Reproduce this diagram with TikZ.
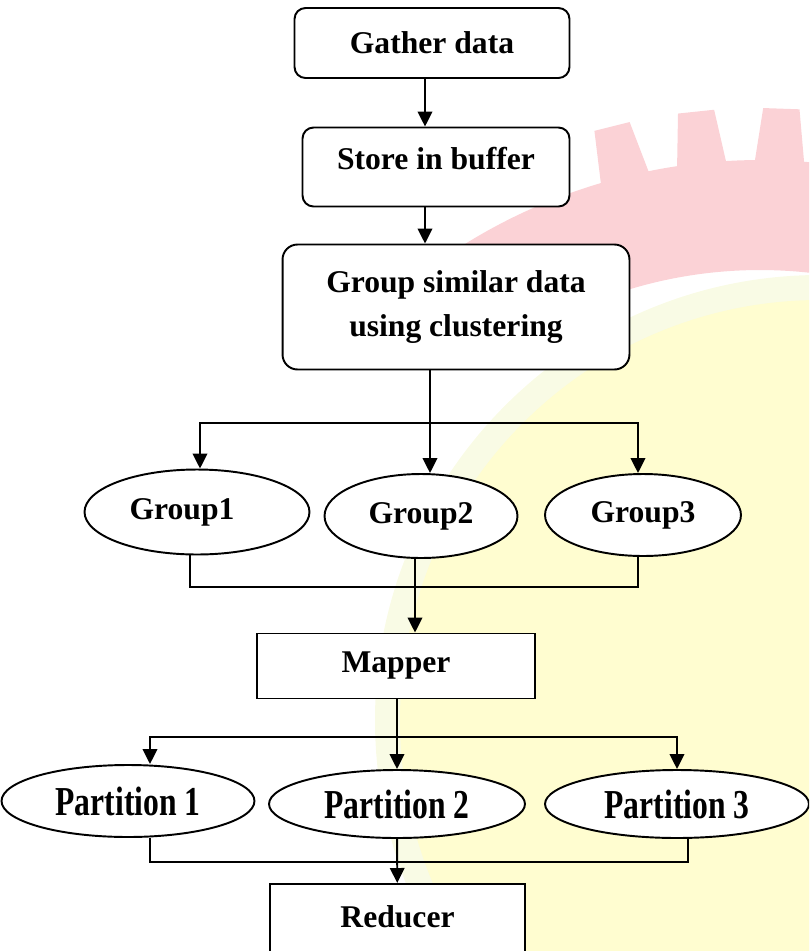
\documentclass[tikz,border=0pt]{standalone}
\usepackage{fontspec}
\setmainfont{Liberation Serif}
\usepackage{tikz}
\usetikzlibrary{arrows.meta,shapes.geometric,positioning}
\definecolor{markpink}{RGB}{251,210,214}
\definecolor{markyellow}{RGB}{255,253,208}
\definecolor{markpale}{RGB}{249,251,229}
\tikzset{
  round box/.style={
    draw, fill=white, line width=1.1pt,
    rounded corners=#1,
    font=\bfseries\fontsize{18}{24.5}\selectfont,
    align=center,
  },
  plain box/.style={
    draw, fill=white, line width=1.1pt,
    minimum width={#1},
    font=\bfseries\fontsize{18}{24.5}\selectfont,
  },
  oval/.style={
    ellipse, draw, fill=white, line width=1.1pt,
    inner sep=0pt,
    font=\bfseries\fontsize{18}{24.5}\selectfont,
  },
  flow/.style={
    line width=1.1pt,
    -{Triangle[length=0.3cm,width=0.29cm]},
  },
  link/.style={
    line width=1.1pt,
  }
}
\newcommand{\tallword}[1]{\scalebox{1}[1.3]{#1}}

\begin{document}
\begin{tikzpicture}[x=0.02cm, y=-0.02cm]
  \useasboundingbox (0,0) rectangle (809,951);
  \clip (0,0) rectangle (809,951);

  % faint logo behind the chart
  \fill[markpale] (820,720) circle[radius=445];
  \fill[markyellow] (820,720) circle[radius=420];
  \begin{scope}[shift={(760,720)}]
    \fill[markpink] (-128:450) -- (-128:560) arc[start angle=-128, end angle=-50, radius=560]
      -- (-50:450) arc[start angle=-50, end angle=-128, radius=450] -- cycle;
    \foreach \a in {104,96,88,80,72,64}
      \fill[markpink] (-\a-2.6:555) -- (-\a-1.7:612) -- (-\a+1.7:612) -- (-\a+2.6:555) -- cycle;
  \end{scope}

  \coordinate (spine) at (425,0);
  \coordinate (split1) at (430,423);
  \coordinate (join1) at (415,587);
  \coordinate (split2) at (397,737);
  \coordinate (join2) at (397,862);

  \node [round box=0.22cm, minimum width=5.5cm, minimum height=1.4cm] (gather) at (432,43) {Gather data};
  \node [round box=0.22cm, minimum width=5.34cm, minimum height=1.58cm, text depth=0.33cm] (store) at (436,167) {Store in buffer};
  \node [round box=0.3cm, minimum width=6.94cm, minimum height=2.5cm] (cluster) at (456,307) {Group similar data\\using clustering};

  \node [oval, minimum width=4.5cm, minimum height=1.7cm] (group1) at (197,512) {Group1\kern0.6cm};
  \node [oval, minimum width=3.86cm, minimum height=1.68cm] (group2) at (421,516) {Group2};
  \node [oval, minimum width=3.92cm, minimum height=1.64cm] (group3) at (643,515) {Group3};

  \node [plain box=5.56cm, minimum height=1.3cm] (mapper) at (396,666) {Mapper};

  \node [oval, minimum width=5.06cm, minimum height=1.44cm] (part1) at (128,801) {\tallword{Partition 1}};
  \node [oval, minimum width=5.12cm, minimum height=1.36cm] (part2) at (397,804) {\tallword{Partition 2}};
  \node [oval, minimum width=5.28cm, minimum height=1.36cm] (part3) at (677,804) {\tallword{Partition 3}};

  \node [plain box=5.1cm, anchor=north, inner ysep=0.44cm, text height=0.44cm, text depth=1.2cm] (reducer) at (397.5,883) {Reducer};

  \draw [flow] (gather.south -| spine) -- (store.north -| spine);
  \draw [flow] (store.south -| spine) -- (cluster.north -| spine);

  \draw [flow] (cluster.south -| split1) -- (group2.north -| split1);
  \draw [flow] (split1) -| ([xshift=0.06cm]group1.north);
  \draw [flow] (split1) -| ([xshift=-0.1cm]group3.north);

  \draw [link] ([xshift=-0.14cm]group1.south) |- (join1) -| ([xshift=-0.1cm]group3.south);
  \draw [flow] (group2.south -| join1) -- (mapper.north -| join1);

  \draw [link] (mapper.south -| split2) -- (split2);
  \draw [flow] (split2) -- (part2);
  \draw [flow] (split2) -| ([xshift=0.44cm]part1.north);
  \draw [flow] (split2) -| (part3);

  \draw [link] ([xshift=0.44cm]part1.south) |- (join2) -| ([xshift=0.22cm]part3.south);
  \draw [flow] (part2) -- (reducer);
\end{tikzpicture}
\end{document}
